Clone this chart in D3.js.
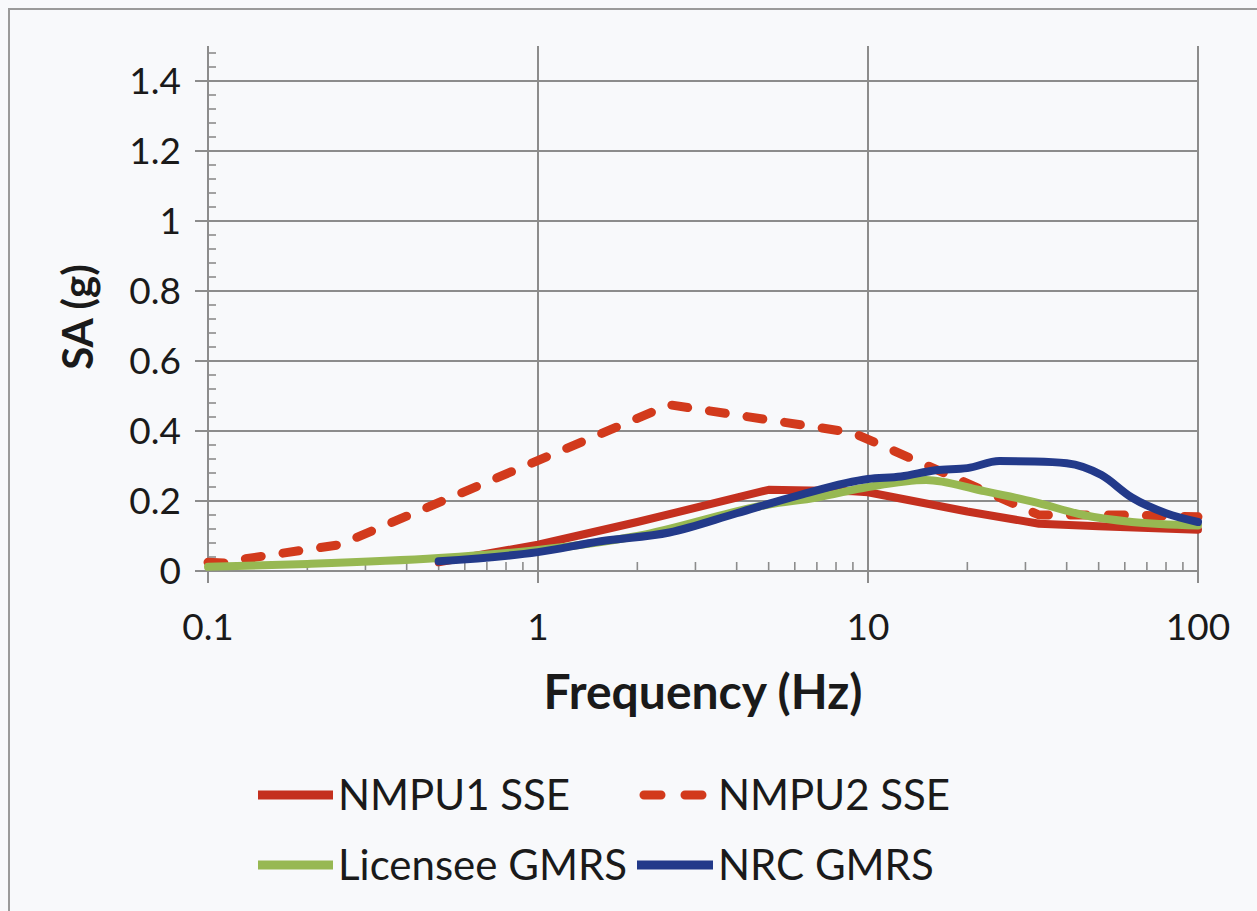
<!DOCTYPE html>
<html>
<head>
<meta charset="utf-8">
<script src="https://cdn.jsdelivr.net/npm/d3@7"></script>
<style>
  body { margin: 0; background: #f8f9fb; }
  svg { display: block; font-family: Lato, "Open Sans", sans-serif; }
  .tick-label { font-size: 37px; fill: #1a1a1a; }
  .axis-title { font-size: 42px; font-weight: bold; fill: #1a1a1a; }
  .x-title { font-size: 48px; }
  .legend-text { font-size: 42px; fill: #1a1a1a; }
</style>
</head>
<body>
<svg id="chart" width="1257" height="911"></svg>
<script>
// Frequency (Hz) / SA (g) pairs
const nmpu1 = [[0.5, 0.025], [1, 0.075], [2, 0.14], [5, 0.232], [9, 0.228], [10, 0.225],
  [20, 0.17], [33, 0.135], [50, 0.128], [100, 0.118]];
const nmpu2 = [[0.1, 0.025], [0.115, 0.022], [0.13, 0.035], [0.25, 0.075], [2.5, 0.475],
  [9, 0.395], [33, 0.16], [60, 0.16], [100, 0.155]];
const licensee = [[0.1, 0.012], [0.2, 0.02], [0.5, 0.037], [1, 0.06], [2, 0.1], [5, 0.19],
  [7, 0.21], [10, 0.24], [15, 0.26], [22, 0.23], [32, 0.197], [45, 0.16], [63, 0.14], [100, 0.13]];
const nrc = [[0.5, 0.028], [1, 0.054], [1.55, 0.085], [2.5, 0.11], [4, 0.165], [6.2, 0.217],
  [10, 0.263], [12.6, 0.27], [16, 0.288], [20, 0.294], [25, 0.314], [32, 0.313], [40, 0.308],
  [51, 0.274], [63, 0.21], [80, 0.165], [100, 0.14]];

const xTicks = [0.1, 1, 10, 100];
const yTicks = [0, 0.2, 0.4, 0.6, 0.8, 1, 1.2, 1.4];

const series = [
  { name: 'NMPU1 SSE', data: nmpu1, color: '#c4301f', dash: null, smooth: false },
  { name: 'NMPU2 SSE', data: nmpu2, color: '#d23a1c', dash: '16 22', smooth: false },
  { name: 'Licensee GMRS', data: licensee, color: '#97b852', dash: null, smooth: true },
  { name: 'NRC GMRS', data: nrc, color: '#233a8a', dash: null, smooth: true },
];

const margin = { left: 208, top: 46, right: 59, bottom: 340 };
const width = 1257, height = 911;
const drawWidth = width - margin.left - margin.right;
const drawHeight = height - margin.top - margin.bottom;

const svg = d3.select('#chart');

// outer chart frame (right and bottom edges fall off the picture)
svg.append('rect')
  .attr('x', 9).attr('y', 9).attr('width', 1300).attr('height', 1000)
  .attr('fill', 'none').attr('stroke', '#9a9a9a').attr('stroke-width', 2);

const xScale = d3.scaleLog().domain([0.1, 100]).range([0, drawWidth]);
const yScale = d3.scaleLinear().domain([0, 1.5]).range([drawHeight, 0]);

const g = svg.append('g').attr('transform', `translate(${margin.left},${margin.top})`);
const gridColor = '#8c8c8c';

// horizontal gridlines (with outward major tick)
g.append('g').selectAll('line').data(yTicks.filter(d => d > 0)).join('line')
  .attr('x1', -13).attr('x2', drawWidth)
  .attr('y1', d => yScale(d)).attr('y2', d => yScale(d))
  .attr('stroke', gridColor).attr('stroke-width', 2);

// vertical gridlines (with outward major tick)
g.append('g').selectAll('line').data(xTicks.filter(d => d > 0.1)).join('line')
  .attr('x1', d => xScale(d)).attr('x2', d => xScale(d))
  .attr('y1', 0).attr('y2', drawHeight + 12)
  .attr('stroke', gridColor).attr('stroke-width', 2);

// y minor ticks inside the axis
const yMinor = d3.range(0.04, 1.5, 0.04).filter(d => Math.abs(d / 0.2 - Math.round(d / 0.2)) > 0.01);
g.append('g').selectAll('line').data(yMinor).join('line')
  .attr('x1', 0).attr('x2', 8)
  .attr('y1', d => yScale(d)).attr('y2', d => yScale(d))
  .attr('stroke', gridColor).attr('stroke-width', 1.6);

// x minor ticks inside the axis
const xMinor = [];
[0.1, 1, 10].forEach(dec => { for (let k = 2; k <= 9; k++) xMinor.push(dec * k); });
g.append('g').selectAll('line').data(xMinor).join('line')
  .attr('x1', d => xScale(d)).attr('x2', d => xScale(d))
  .attr('y1', drawHeight).attr('y2', drawHeight - 9)
  .attr('stroke', gridColor).attr('stroke-width', 1.6);

// axis lines
g.append('line').attr('x1', -13).attr('x2', drawWidth)
  .attr('y1', drawHeight).attr('y2', drawHeight)
  .attr('stroke', gridColor).attr('stroke-width', 2);
g.append('line').attr('x1', 0).attr('x2', 0)
  .attr('y1', 0).attr('y2', drawHeight + 12)
  .attr('stroke', gridColor).attr('stroke-width', 2);

// tick labels
g.append('g').selectAll('text').data(yTicks).join('text')
  .attr('class', 'tick-label')
  .attr('x', -27).attr('y', d => yScale(d))
  .attr('dy', '0.36em').attr('text-anchor', 'end')
  .text(d => d3.format('')(d));

g.append('g').selectAll('text').data(xTicks).join('text')
  .attr('class', 'tick-label')
  .attr('x', d => xScale(d)).attr('y', drawHeight + 69)
  .attr('text-anchor', 'middle')
  .text(d => d3.format('')(d));

// axis titles
svg.append('text').attr('class', 'axis-title x-title')
  .attr('x', 703).attr('y', 709).attr('text-anchor', 'middle')
  .text('Frequency (Hz)');
svg.append('text').attr('class', 'axis-title')
  .attr('transform', 'translate(93,317) rotate(-90)')
  .attr('text-anchor', 'middle')
  .text('SA (g)');

// series lines: design spectra are straight segments, GMRS curves are smoothed
const lineStraight = d3.line()
  .x(d => xScale(d[0]))
  .y(d => yScale(d[1]));
const lineSmooth = d3.line()
  .x(d => xScale(d[0]))
  .y(d => yScale(d[1]))
  .curve(d3.curveMonotoneX);

g.append('g').selectAll('path').data(series).join('path')
  .attr('d', d => (d.smooth ? lineSmooth : lineStraight)(d.data))
  .attr('fill', 'none')
  .attr('stroke', d => d.color)
  .attr('stroke-width', d => d.dash ? 9 : 8)
  .attr('stroke-linecap', 'round')
  .attr('stroke-linejoin', 'round')
  .attr('stroke-dasharray', d => d.dash);

// legend
const legendPos = [
  { x: 258, y: 795, len: 75, tx: 338 },
  { x: 644, y: 795, len: 58, tx: 718 },
  { x: 258, y: 865, len: 75, tx: 338 },
  { x: 637, y: 865, len: 76, tx: 718 },
];
const legend = svg.append('g').selectAll('g').data(series).join('g');
legend.append('line')
  .attr('x1', (d, i) => legendPos[i].x)
  .attr('x2', (d, i) => legendPos[i].x + legendPos[i].len)
  .attr('y1', (d, i) => legendPos[i].y).attr('y2', (d, i) => legendPos[i].y)
  .attr('stroke', d => d.color)
  .attr('stroke-width', 9)
  .attr('stroke-linecap', d => d.dash ? 'round' : 'butt')
  .attr('stroke-dasharray', d => d.dash ? '17 24' : null);
legend.append('text').attr('class', 'legend-text')
  .attr('x', (d, i) => legendPos[i].tx)
  .attr('y', (d, i) => legendPos[i].y)
  .attr('dy', '0.36em')
  .text(d => d.name);
</script>
</body>
</html>
